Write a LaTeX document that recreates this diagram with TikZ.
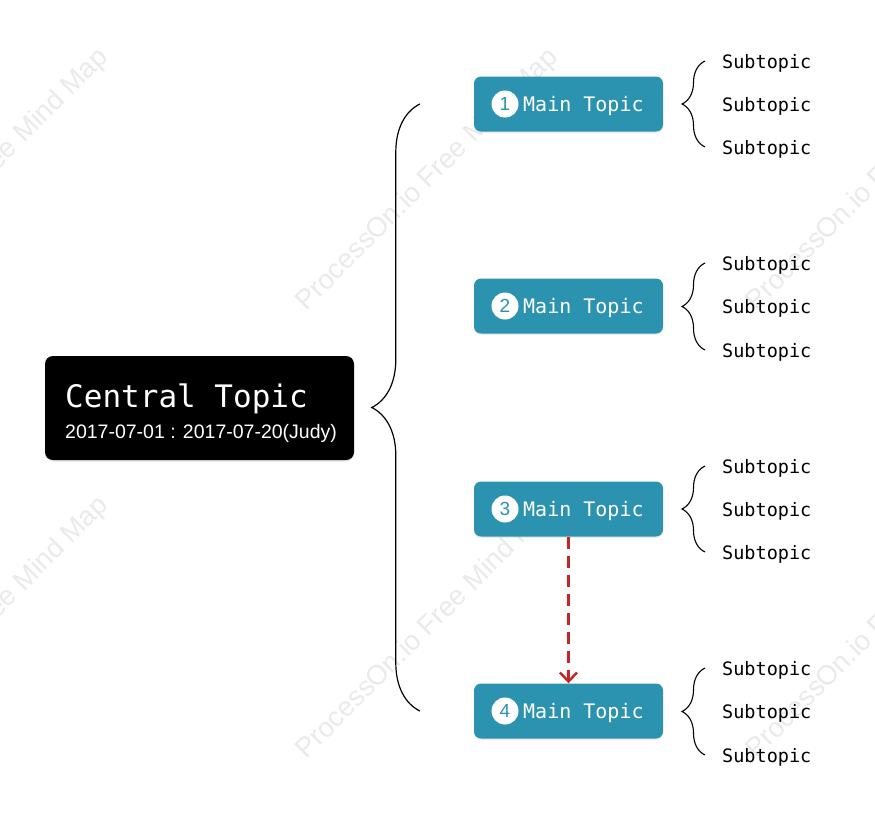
\documentclass[tikz,border=0pt]{standalone}
\usepackage{fontspec}
\setmainfont{Liberation Sans}
\newfontfamily\topicfont{DejaVu Sans Mono}
\usetikzlibrary{arrows.meta,shadows,decorations.pathreplacing}

\definecolor{topicteal}{RGB}{43,146,175}
\definecolor{linkred}{RGB}{196,38,38}
\definecolor{markgray}{RGB}{234,234,234}

\begin{document}
\begin{tikzpicture}[
  x=1pt, y=-1pt,
  >=Latex,
  centralbox/.style={draw=none, fill=black, rounded corners=8pt, minimum width=309pt, minimum height=104pt,
    drop shadow={shadow xshift=0pt, shadow yshift=-1.5pt, opacity=0.2}},
  centraltitle/.style={anchor=base west, inner sep=0pt, text=white, font=\topicfont\fontsize{31}{31}\selectfont},
  centraldate/.style={anchor=base west, inner sep=0pt, text=white, font=\fontsize{19.5}{19.5}\selectfont},
  maintopic/.style={fill=topicteal, rounded corners=7pt, minimum width=189pt, minimum height=55pt,
    drop shadow={shadow xshift=0pt, shadow yshift=-1.5pt, opacity=0.15}},
  numdot/.style={circle, fill=white, text=topicteal, minimum size=27pt, inner sep=0pt, font=\fontsize{19}{19}\selectfont},
  maintext/.style={anchor=base west, inner sep=0pt, text=white, font=\topicfont\fontsize{20}{20}\selectfont},
  subtopic/.style={anchor=base west, inner sep=0pt, text=black, font=\topicfont\fontsize{18.5}{18.5}\selectfont},
  bigbrace/.style={draw, line width=1.2pt, decorate, decoration={brace, amplitude=48pt}},
  smallbrace/.style={draw, line width=1.1pt, decorate, decoration={brace, amplitude=23pt}},
  link/.style={draw=linkred, line width=2.5pt, dash pattern=on 12pt off 7pt,
    -{Straight Barb[length=9pt, width=17pt, line width=2.5pt]}},
  watermark/.style={rotate=45, text=markgray, inner sep=0pt, font=\fontsize{27.5}{27.5}\selectfont}
]

  \useasboundingbox (0,0) rectangle (875,831);

  % watermark
  \begin{scope}
    \clip (0,0) rectangle (875,831);
    \node[watermark] (mark1) at (-22,180) {ProcessOn.io Free Mind Map};
    \node[watermark] (mark2) at (428,180) {ProcessOn.io Free Mind Map};
    \node[watermark] (mark3) at (878,180) {ProcessOn.io Free Mind Map};
    \node[watermark] (mark4) at (-22,628) {ProcessOn.io Free Mind Map};
    \node[watermark] (mark5) at (428,628) {ProcessOn.io Free Mind Map};
    \node[watermark] (mark6) at (878,628) {ProcessOn.io Free Mind Map};
  \end{scope}

  % central topic
  \node[centralbox] (central) at (199.5,408) {};
  \node[centraltitle] (centraltitle) at (65,407) {Central Topic};
  \node[centraldate]  (centraldate)  at (65,438) {2017-07-01 : 2017-07-20(Judy)};

  % main topics
  \node[maintopic] (main1) at (568.5,104) {};
  \node[maintopic] (main2) at (568.5,306) {};
  \node[maintopic] (main3) at (568.5,509) {};
  \node[maintopic] (main4) at (568.5,711) {};

  \node[numdot] (num1) at (505,104) {1};
  \node[numdot] (num2) at (505,306) {2};
  \node[numdot] (num3) at (505,509) {3};
  \node[numdot] (num4) at (505,711) {4};

  \node[maintext] (label1) at (523,111) {Main Topic};
  \node[maintext] (label2) at (523,313) {Main Topic};
  \node[maintext] (label3) at (523,516) {Main Topic};
  \node[maintext] (label4) at (523,718) {Main Topic};

  % subtopics
  \node[subtopic] (sub11) at (722,68)  {Subtopic};
  \node[subtopic] (sub12) at (722,111) {Subtopic};
  \node[subtopic] (sub13) at (722,154) {Subtopic};

  \node[subtopic] (sub21) at (722,270) {Subtopic};
  \node[subtopic] (sub22) at (722,313) {Subtopic};
  \node[subtopic] (sub23) at (722,357) {Subtopic};

  \node[subtopic] (sub31) at (722,473) {Subtopic};
  \node[subtopic] (sub32) at (722,516) {Subtopic};
  \node[subtopic] (sub33) at (722,559) {Subtopic};

  \node[subtopic] (sub41) at (722,675) {Subtopic};
  \node[subtopic] (sub42) at (722,718) {Subtopic};
  \node[subtopic] (sub43) at (722,762) {Subtopic};

  % braces
  \draw[bigbrace] ([xshift=-54pt]main4.west) -- ([xshift=-54pt]main1.west);

  \draw[smallbrace] ([xshift=-17pt,yshift=7pt]sub13.base west) -- ([xshift=-17pt,yshift=7pt]sub11.base west);
  \draw[smallbrace] ([xshift=-17pt,yshift=7pt]sub23.base west) -- ([xshift=-17pt,yshift=7pt]sub21.base west);
  \draw[smallbrace] ([xshift=-17pt,yshift=7pt]sub33.base west) -- ([xshift=-17pt,yshift=7pt]sub31.base west);
  \draw[smallbrace] ([xshift=-17pt,yshift=7pt]sub43.base west) -- ([xshift=-17pt,yshift=7pt]sub41.base west);

  % relation
  \draw[link] (main3.south) -- (main4.north);
\end{tikzpicture}
\end{document}
